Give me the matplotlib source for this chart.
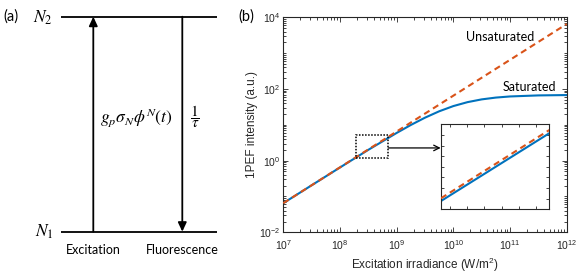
import math

import matplotlib
matplotlib.use("Agg")
import matplotlib.pyplot as plt
from matplotlib.patches import Rectangle, FancyArrowPatch
from matplotlib.ticker import FixedLocator, LogLocator, FuncFormatter, NullFormatter, MaxNLocator

plt.rcParams["mathtext.fontset"] = "stix"

# panel (b): values
irradiance = [1e7, 3.16e7, 1e8, 3.16e8, 1e9, 1.78e9, 3.16e9, 5.62e9, 1e10,
              1.78e10, 3.16e10, 5.62e10, 1e11, 3.16e11, 1e12]
saturated = [0.065, 0.205, 0.644, 2.0, 5.93, 9.9, 15.8, 23.8, 33.3,
             42.9, 51.2, 57.5, 61.8, 66.1, 67.6]
unsat_irradiance = [1e7, 1e12]
unsaturated = [0.065, 6500]

x_ticks = [1e7, 1e8, 1e9, 1e10, 1e11, 1e12]
y_ticks = [1e-2, 1e0, 1e2, 1e4]

zoom_box_x = [1.93e8, 7.1e8]
zoom_box_y = [1.15, 5.1]

inset_x = [2e8, 7e8]
inset_saturated = [1.39, 4.58]
inset_unsaturated = [1.52, 4.73]

BLUE = "#0072BD"
ORANGE = "#D95319"
AXC = "#262626"
SANS = "Liberation Sans"
CAL = "Lato"

W, H = 581, 277
fig = plt.figure(figsize=(W / 100, H / 100), dpi=100)

# ---- panel (a): two-level diagram, drawn in pixel coordinates
ax_a = fig.add_axes([0, 0, 250 / W, 1])
ax_a.set_xlim(0, 250)
ax_a.set_ylim(H, 0)
ax_a.axis("off")
ax_a.plot([61, 217], [16.7, 16.7], color="k", lw=1.3, solid_capstyle="butt")
ax_a.plot([61, 217], [231.7, 231.7], color="k", lw=1.3, solid_capstyle="butt")
for x0, y0, y1 in [(93.3, 231.7, 16.7), (182.3, 16.7, 231.7)]:
    ax_a.add_patch(FancyArrowPatch((x0, y0), (x0, y1), arrowstyle="-|>,head_length=0.6,head_width=0.28",
                                   mutation_scale=9, lw=1.3, color="k", shrinkA=0, shrinkB=0))
ax_a.text(3, 17, "(a)", family=CAL, fontsize=10.5, ha="left", va="center")
ax_a.text(43, 18, r"$N_2$", fontsize=12.5, ha="center", va="center")
ax_a.text(44, 232, r"$N_1$", fontsize=12.5, ha="center", va="center")
ax_a.text(136, 118, r"$g_p\sigma_N\phi^N(t)$", fontsize=12.5, ha="center", va="center")
ax_a.text(195, 117, r"$\dfrac{1}{\tau}$", fontsize=11, ha="center", va="center")
ax_a.text(93, 250, "Excitation", family=CAL, fontsize=9, ha="center", va="center")
ax_a.text(182, 250, "Fluorescence", family=CAL, fontsize=9, ha="center", va="center")

# ---- panel (b): main log-log axes
ax = fig.add_axes([283.3 / W, 1 - 232.3 / H, 283.4 / W, 215 / H])
ax.plot(unsat_irradiance, unsaturated, color=ORANGE, lw=1.5, linestyle=(0, (3, 2)), zorder=3)
ax.plot(irradiance, saturated, color=BLUE, lw=1.5, zorder=2)
ax.set_xscale("log")
ax.set_yscale("log")
ax.set_xlim(1e7, 1e12)
ax.set_ylim(1e-2, 1e4)

fmt = FuncFormatter(lambda v, p: r"$\mathregular{10^{%d}}$" % round(math.log10(v)))
ax.xaxis.set_major_locator(FixedLocator(x_ticks))
ax.yaxis.set_major_locator(FixedLocator(y_ticks))
ax.xaxis.set_major_formatter(fmt)
ax.yaxis.set_major_formatter(fmt)
for axis in (ax.xaxis, ax.yaxis):
    axis.set_minor_locator(LogLocator(base=10, subs=tuple(range(1, 10)), numticks=50))
    axis.set_minor_formatter(NullFormatter())
ax.tick_params(which="both", direction="in", top=True, right=True, colors=AXC,
               labelsize=7.5, width=0.6, pad=2)
ax.tick_params(which="major", length=3.5)
ax.tick_params(which="minor", length=2)
ax.tick_params(axis="x", pad=4)
for lab in ax.get_xticklabels() + ax.get_yticklabels():
    lab.set_family(SANS)
for s in ax.spines.values():
    s.set_color(AXC)
    s.set_linewidth(0.8)
ax.set_xlabel(r"Excitation irradiance (W/m$\mathregular{^2}$)", family=SANS, fontsize=8.5,
              color=AXC, labelpad=3)
ax.set_ylabel("1PEF intensity (a.u.)", family=SANS, fontsize=8.5, color=AXC, labelpad=1)

ax.text(6.7e10, 2900, "Unsaturated", family=CAL, fontsize=9, ha="center", va="center")
ax.text(2.2e11, 112, "Saturated", family=CAL, fontsize=9, ha="center", va="center")

ax.add_patch(Rectangle((zoom_box_x[0], zoom_box_y[0]), zoom_box_x[1] - zoom_box_x[0],
                       zoom_box_y[1] - zoom_box_y[0], fill=False, ec="k", lw=1.1,
                       linestyle=(0, (1, 1)), zorder=4))
ax.annotate("", xy=(5.97e9, 2.26), xytext=(zoom_box_x[1], 2.26),
            arrowprops=dict(arrowstyle="->", lw=0.9, color="k", shrinkA=0, shrinkB=0))

fig.text(238 / W, 1 - 17 / H, "(b)", family=CAL, fontsize=10.5, ha="left", va="center")

# ---- inset (linear zoom)
ins = fig.add_axes([441 / W, 1 - 209.3 / H, 108.3 / W, 85 / H])
ins.plot(inset_x, inset_unsaturated, color=ORANGE, lw=1.5, linestyle=(0, (3, 2)), zorder=3)
ins.plot(inset_x, inset_saturated, color=BLUE, lw=1.5, zorder=2)
ins.set_xlim(inset_x)
ins.set_ylim(1.0, 5.0)
ins.xaxis.set_major_locator(MaxNLocator(8))
ins.yaxis.set_major_locator(MaxNLocator(8))
ins.tick_params(direction="in", top=True, right=True, length=2, width=0.6, colors=AXC,
                labelbottom=False, labelleft=False)
for s in ins.spines.values():
    s.set_color(AXC)
    s.set_linewidth(0.8)

fig.savefig("out.png", dpi=100)
